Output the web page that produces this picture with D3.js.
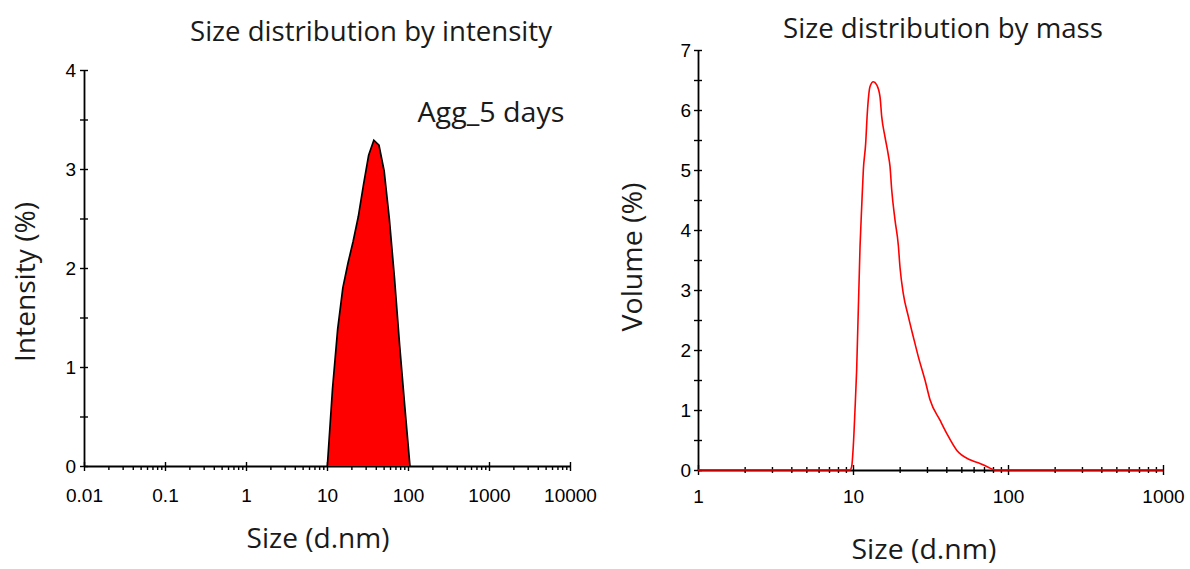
<!DOCTYPE html>
<html><head><meta charset="utf-8">
<script src="https://cdn.jsdelivr.net/npm/d3@7"></script>
<style>body{margin:0;background:#fff}</style>
</head><body>
<svg id="c" width="1190" height="569"></svg>
<script>
// ---- data ----
const intensitySizes  = [10.10, 11.70, 13.54, 15.69, 18.17, 21.04, 24.36, 28.21, 32.67, 37.84, 43.82, 50.75, 58.77, 68.06, 78.82, 91.28, 105.7];
const intensityValues = [0, 0.78, 1.38, 1.80, 2.05, 2.27, 2.52, 2.84, 3.14, 3.29, 3.24, 2.98, 2.50, 1.90, 1.22, 0.60, 0];

const massSizes  = [1, 9.56, 9.81, 10.04, 10.30, 10.56, 11.10, 11.38, 11.66, 12.07, 12.37, 12.88, 13.52, 14.22, 14.94, 15.32, 16.09, 16.90, 17.33, 17.77, 18.66, 19.60, 20.10, 21.11, 22.74, 24.49, 26.38, 29.14, 31.40, 36.41, 40.23, 46.67, 56.86, 65.97, 74.0, 82.46, 1000];
const massValues = [0, 0, 0.06, 0.39, 1.0, 1.67, 3.72, 4.39, 5.0, 5.44, 5.95, 6.39, 6.47, 6.42, 6.22, 5.89, 5.55, 5.25, 5.06, 4.67, 4.17, 3.75, 3.38, 2.94, 2.56, 2.22, 1.89, 1.5, 1.17, 0.83, 0.61, 0.33, 0.17, 0.11, 0.05, 0, 0];

const intensityXMajor = [0.01, 0.1, 1, 10, 100, 1000, 10000];
const intensityXLabels = ["0.01", "0.1", "1", "10", "100", "1000", "10000"];
const intensityYTicks = [0, 0.5, 1, 1.5, 2, 2.5, 3, 3.5, 4];
const massXMajor = [1, 10, 100, 1000];
const massXLabels = ["1", "10", "100", "1000"];
const massYTicks = [0, 0.5, 1, 1.5, 2, 2.5, 3, 3.5, 4, 4.5, 5, 5.5, 6, 6.5, 7];

const titleLeft = "Size distribution by intensity";
const titleRight = "Size distribution by mass";
const sampleLabel = "Agg_5 days";
const xTitle = "Size (d.nm)";
const yTitleLeft = "Intensity (%)";
const yTitleRight = "Volume (%)";

// ---- drawing ----
const svg = d3.select("#c");
const LBL = "'Open Sans', sans-serif";
const TICKF = "'Liberation Sans', Arial, sans-serif";

function minorTicks(majors) {
  const out = [];
  majors.forEach((m, i) => {
    if (i < majors.length - 1) for (let k = 1; k <= 9; k++) out.push(+(m * k).toPrecision(6));
    else out.push(m);
  });
  return out;
}
function isMajor(v, majors) { return majors.some(m => Math.abs(m - v) / m < 1e-6); }

function xAxis(g, scale, majors, labels, y, minUp, minDown, majUp, majDown, labY) {
  const ax = d3.axisBottom(scale).tickValues(minorTicks(majors)).tickSizeOuter(0)
    .tickFormat(v => { const i = majors.findIndex(m => Math.abs(m - v) / m < 1e-6); return i >= 0 ? labels[i] : ""; });
  const gg = g.append("g").attr("transform", `translate(0,${y})`).call(ax);
  gg.select(".domain").attr("stroke", "#000").attr("stroke-width", 1.8);
  gg.selectAll(".tick line").attr("stroke", "#000").attr("stroke-width", 1.4)
    .attr("y1", d => isMajor(d, majors) ? -majUp : -minUp)
    .attr("y2", d => isMajor(d, majors) ? majDown : minDown);
  gg.selectAll(".tick text").attr("y", labY).attr("dy", null)
    .attr("font-family", TICKF).attr("font-size", 19).attr("fill", "#000");
  return gg;
}
function yAxis(g, scale, ticks, x, labX) {
  const ax = d3.axisLeft(scale).tickValues(ticks).tickSizeOuter(0)
    .tickFormat(v => Number.isInteger(v) ? String(v) : "");
  const gg = g.append("g").attr("transform", `translate(${x},0)`).call(ax);
  gg.select(".domain").attr("stroke", "#000").attr("stroke-width", 1.8);
  gg.selectAll(".tick line").attr("stroke", "#000").attr("stroke-width", 1.4).attr("x1", -4).attr("x2", 4);
  gg.selectAll(".tick text").attr("x", labX).attr("dy", "0.36em")
    .attr("font-family", TICKF).attr("font-size", 19).attr("fill", "#000");
  return gg;
}
function label(text, x, y, len, rotate) {
  const t = svg.append("text").text(text).attr("font-family", LBL).attr("font-size", 27)
    .attr("fill", "#1a1a1a").attr("text-anchor", "middle")
    .attr("textLength", len).attr("lengthAdjust", "spacingAndGlyphs");
  if (rotate) t.attr("transform", `translate(${x},${y}) rotate(-90)`);
  else t.attr("x", x).attr("y", y);
}

// Left chart: intensity
const xL = d3.scaleLog().domain([0.01, 10000]).range([84, 570]);
const yL = d3.scaleLinear().domain([0, 4]).range([466, 70]);
const gL = svg.append("g");
xAxis(gL, xL, intensityXMajor, intensityXLabels, yL(0), 0, 4, 4, 5, 36);
yAxis(gL, yL, intensityYTicks, xL(0.01), -8);

const iData = intensitySizes.map((s, i) => ({ s, v: intensityValues[i] }));
gL.append("path").datum(iData)
  .attr("d", d3.area().x(d => xL(d.s)).y0(yL(0)).y1(d => yL(d.v)))
  .attr("fill", "#ff0000");
gL.append("path").datum(iData)
  .attr("d", d3.line().x(d => xL(d.s)).y(d => yL(d.v)))
  .attr("fill", "none").attr("stroke", "#000").attr("stroke-width", 1.7);

// Right chart: mass
const xR = d3.scaleLog().domain([1, 1000]).range([698, 1163]);
const yR = d3.scaleLinear().domain([0, 7]).range([470, 50]);
const gR = svg.append("g");
xAxis(gR, xR, massXMajor, massXLabels, yR(0), 3, 3, 5, 5, 33);
yAxis(gR, yR, massYTicks, xR(1), -7);

const mData = massSizes.map((s, i) => ({ s, v: massValues[i] }));
gR.append("path").datum(mData)
  .attr("d", d3.line().x(d => xR(d.s)).y(d => yR(d.v)).curve(d3.curveMonotoneX))
  .attr("fill", "none").attr("stroke", "#ff0000").attr("stroke-width", 1.6);

// Texts
label(titleLeft, 371, 41, 362);
label(sampleLabel, 491, 122, 147);
label(xTitle, 318, 548, 143);
label(yTitleLeft, 35, 282, 160, true);
label(titleRight, 943, 38, 320);
label(xTitle, 924, 559, 145);
label(yTitleRight, 642, 257, 149, true);
</script>
</body></html>
